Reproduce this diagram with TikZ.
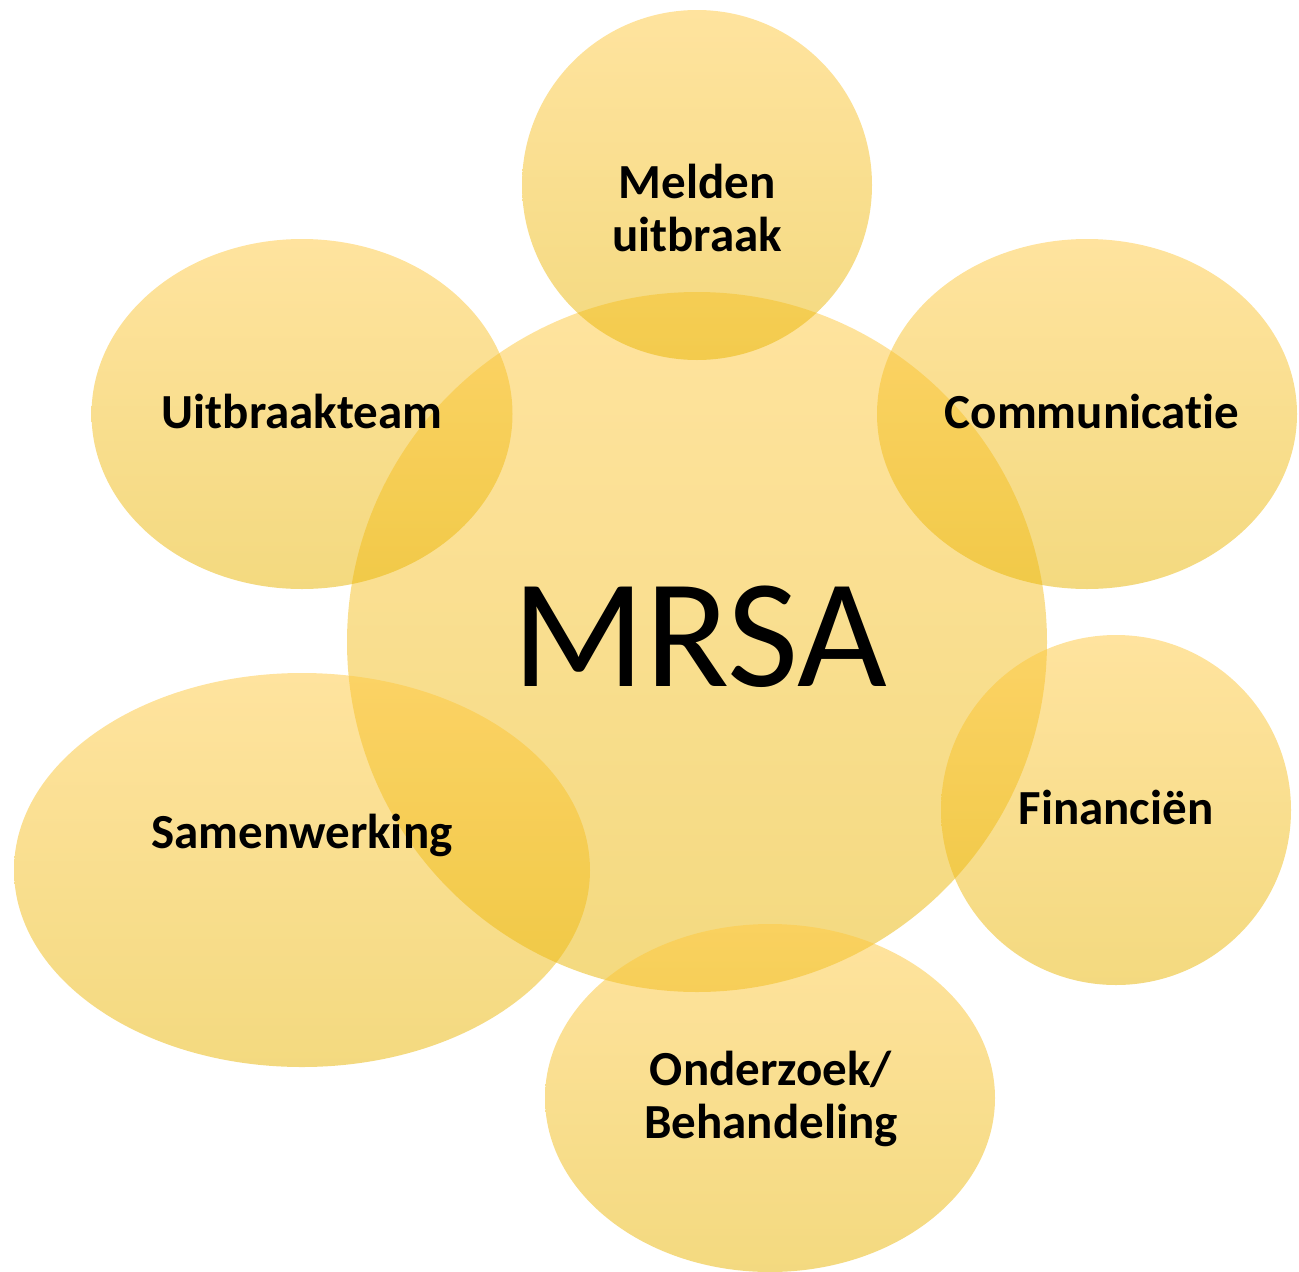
\documentclass[tikz,border=0pt]{standalone}
\usepackage{fontspec}
\setmainfont{Carlito}[Ligatures=NoCommon]
\usetikzlibrary{shapes.geometric}
\definecolor{goldtop}{RGB}{255,200,62}
\definecolor{goldmid}{RGB}{255,192,0}
\definecolor{goldbot}{RGB}{232,180,0}
\tikzset{
  blob/.style={ellipse, inner sep=0pt, draw=none, fill opacity=0.5,
    top color=goldtop, middle color=goldmid, bottom color=goldbot},
  topic/.style={font=\fontsize{49}{53}\selectfont\bfseries, align=center, text=black, inner sep=0pt},
}
\begin{document}
\begin{tikzpicture}[x=1pt,y=-1pt]
    \useasboundingbox (0,0) rectangle (1299,1272);
    \node[blob, minimum width=700pt, minimum height=700pt] (mrsa) at (697,642) {};
    \node[blob, minimum width=350pt, minimum height=350pt] (melden) at (697,185) {};
    \node[blob, minimum width=421pt, minimum height=350pt] (team) at (302,414) {};
    \node[blob, minimum width=420pt, minimum height=350pt] (comm) at (1087,414) {};
    \node[blob, minimum width=350pt, minimum height=350pt] (fin) at (1116,810) {};
    \node[blob, minimum width=450pt, minimum height=348pt] (onderzoek) at (770,1098) {};
    \node[blob, minimum width=576pt, minimum height=394pt] (samen) at (302,870) {};
    \node[font=\fontsize{155}{155}\selectfont, inner sep=0pt, anchor=base] (mrsa-t) at (700,686) {MRSA};
    \node[topic] (melden-t) at (697,208) {Melden\\uitbraak};
    \node[topic, anchor=base] (team-t) at (302,428) {Uitbraakteam};
    \node[topic, anchor=base] (comm-t) at (1092,428) {Communicatie};
    \node[topic, anchor=base] (fin-t) at (1116,824) {Financiën};
    \node[topic] (onderzoek-t) at (771,1099) {Onderzoek/\\Behandeling};
    \node[topic, anchor=base] (samen-t) at (302,848) {Samenwerking};
\end{tikzpicture}
\end{document}
